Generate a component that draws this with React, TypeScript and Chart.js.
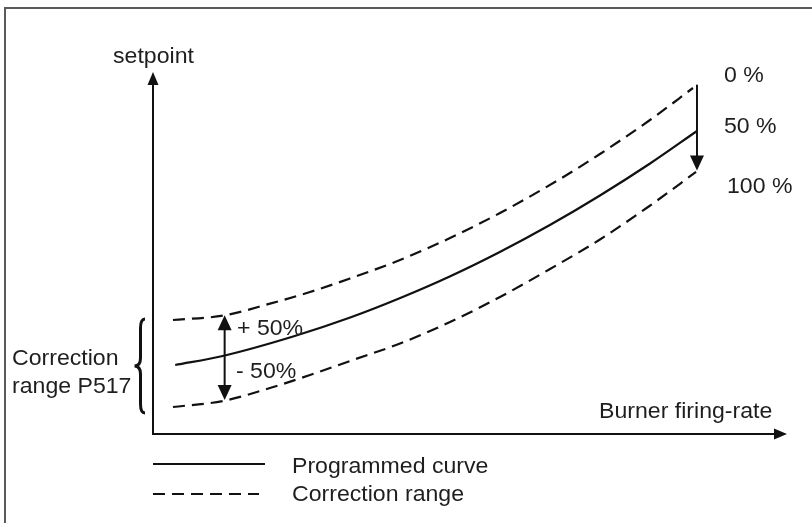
import React, { useEffect, useRef } from "react";
import { Chart, registerables } from "chart.js";

Chart.register(...registerables);

// Programmed curve (x: burner firing-rate, y: setpoint, arbitrary units 0..100)
const xProgrammed = [3.5, 11.0, 22.1, 31.1, 39.0, 46.8, 54.7, 62.6, 70.5, 78.4, 85.8];
const yProgrammed = [19.06, 21.55, 26.93, 32.18, 37.57, 43.51, 50.28, 57.73, 65.88, 74.72, 83.7];

// Upper correction limit (+50%)
const xUpper = [3.15, 11.04, 18.45, 24.76, 31.07, 38.96, 46.85, 54.73, 64.2, 70.5, 78.39, 85.17];
const yUpper = [31.49, 32.7, 36.0, 39.23, 42.96, 48.07, 54.14, 61.05, 70.44, 77.35, 86.74, 95.58];

// Lower correction limit (-50%)
const xLower = [3.15, 11.04, 18.45, 24.76, 31.07, 38.96, 46.85, 54.73, 62.62, 70.5, 78.08, 85.65];
const yLower = [7.46, 9.12, 12.71, 16.3, 20.17, 25.0, 30.94, 37.85, 45.58, 53.73, 62.71, 72.38];

// Annotation arrows (x, yFrom, yTo)
const leftArrow = [11.3, 32.8, 9.4];
const rightArrow = [85.8, 96.5, 72.8];

const axisTitles = ["Burner firing-rate", "setpoint"];
const rangeLabels = ["0 %", "50 %", "100 %"];
const corrLabels = ["+ 50%", "- 50%"];
const braceLabel = ["Correction", "range P517"];
const legendLabels = ["Programmed curve", "Correction range"];

const FONT = '22px "Liberation Sans", Arial, sans-serif';
const INK = "#111";
const TEXT = "#1e1e1e";

function txt(ctx: CanvasRenderingContext2D, s: string, x: number, y: number) {
  ctx.save();
  ctx.translate(x, y);
  ctx.scale(1.05, 1);
  ctx.fillText(s, 0, 0);
  ctx.restore();
}

function arrowHead(ctx: CanvasRenderingContext2D, x: number, y: number, dir: string, w: number, l: number) {
  ctx.beginPath();
  if (dir === "up") {
    ctx.moveTo(x, y);
    ctx.lineTo(x - w / 2, y + l);
    ctx.lineTo(x + w / 2, y + l);
  } else if (dir === "down") {
    ctx.moveTo(x, y);
    ctx.lineTo(x - w / 2, y - l);
    ctx.lineTo(x + w / 2, y - l);
  } else {
    ctx.moveTo(x, y);
    ctx.lineTo(x - l, y - w / 2);
    ctx.lineTo(x - l, y + w / 2);
  }
  ctx.closePath();
  ctx.fill();
}

const diagramPlugin = {
  id: "diagram",
  afterDraw(chart: any) {
    const ctx: CanvasRenderingContext2D = chart.ctx;
    const { left, right, top, bottom } = chart.chartArea;
    const xs = chart.scales.x;
    const ys = chart.scales.y;
    ctx.save();

    // frame (left + top)
    ctx.strokeStyle = "#5a5a5a";
    ctx.lineWidth = 2;
    ctx.beginPath();
    ctx.moveTo(5, chart.height);
    ctx.lineTo(5, 8);
    ctx.lineTo(chart.width, 8);
    ctx.stroke();

    // axes
    ctx.strokeStyle = INK;
    ctx.fillStyle = INK;
    ctx.lineWidth = 2;
    ctx.beginPath();
    ctx.moveTo(left, top + 4);
    ctx.lineTo(left, bottom);
    ctx.lineTo(right - 4, bottom);
    ctx.stroke();
    arrowHead(ctx, left, top, "up", 11, 13);
    arrowHead(ctx, right, bottom, "right", 11, 13);

    // correction arrows
    const lx = xs.getPixelForValue(leftArrow[0]);
    const ly1 = ys.getPixelForValue(leftArrow[1]);
    const ly2 = ys.getPixelForValue(leftArrow[2]);
    ctx.beginPath();
    ctx.moveTo(lx, ly1 + 8);
    ctx.lineTo(lx, ly2 - 8);
    ctx.stroke();
    arrowHead(ctx, lx, ly1, "up", 14, 15);
    arrowHead(ctx, lx, ly2, "down", 14, 15);

    const rx = xs.getPixelForValue(rightArrow[0]);
    const ry1 = ys.getPixelForValue(rightArrow[1]);
    const ry2 = ys.getPixelForValue(rightArrow[2]);
    ctx.beginPath();
    ctx.moveTo(rx, ry1);
    ctx.lineTo(rx, ry2 - 8);
    ctx.stroke();
    arrowHead(ctx, rx, ry2, "down", 14, 15);

    // brace
    const bxR = 145, bxM = 140.5, bxL = 134.5;
    const bTop = 319, bMid = 366, bBot = 413;
    ctx.lineWidth = 3;
    ctx.beginPath();
    ctx.moveTo(bxR, bTop);
    ctx.quadraticCurveTo(bxM, bTop, bxM, bTop + 9);
    ctx.lineTo(bxM, bMid - 8);
    ctx.quadraticCurveTo(bxM, bMid, bxL, bMid);
    ctx.quadraticCurveTo(bxM, bMid, bxM, bMid + 8);
    ctx.lineTo(bxM, bBot - 9);
    ctx.quadraticCurveTo(bxM, bBot, bxR, bBot);
    ctx.stroke();

    // texts
    ctx.fillStyle = TEXT;
    ctx.font = FONT;
    ctx.textBaseline = "alphabetic";
    ctx.textAlign = "left";
    txt(ctx, axisTitles[1], 113, 63);
    txt(ctx, axisTitles[0], 599, 418);
    txt(ctx, rangeLabels[0], 724, 82);
    txt(ctx, rangeLabels[1], 724, 133);
    txt(ctx, rangeLabels[2], 727, 193);
    txt(ctx, corrLabels[0], 237, 335);
    txt(ctx, corrLabels[1], 236, 378);
    txt(ctx, braceLabel[0], 12, 365);
    txt(ctx, braceLabel[1], 12, 393);

    // legend
    const ds = chart.data.datasets;
    ctx.strokeStyle = INK;
    ctx.lineWidth = 2;
    ctx.setLineDash([]);
    ctx.beginPath();
    ctx.moveTo(left, 464);
    ctx.lineTo(left + 112, 464);
    ctx.stroke();
    ctx.setLineDash(ds[1].borderDash);
    ctx.beginPath();
    ctx.moveTo(left, 494);
    ctx.lineTo(left + 106, 494);
    ctx.stroke();
    ctx.setLineDash([]);
    txt(ctx, legendLabels[0], 292, 473);
    txt(ctx, legendLabels[1], 292, 501);

    ctx.restore();
  },
};

function pts(xs: number[], ys: number[]) {
  return xs.map((x, i) => ({ x, y: ys[i] }));
}

export default function App() {
  const ref = useRef<HTMLCanvasElement>(null);
  useEffect(() => {
    if (!ref.current) return;
    const common = {
      borderColor: INK,
      borderWidth: 2.2,
      pointRadius: 0,
      fill: false,
      cubicInterpolationMode: "monotone" as const,
    };
    const chart = new Chart(ref.current, {
      type: "line",
      data: {
        datasets: [
          { ...common, label: legendLabels[0], data: pts(xProgrammed, yProgrammed) },
          { ...common, label: legendLabels[1], data: pts(xUpper, yUpper), borderDash: [12, 7] },
          { ...common, label: legendLabels[1], data: pts(xLower, yLower), borderDash: [12, 7] },
        ],
      },
      options: {
        animation: false,
        responsive: false,
        layout: { padding: { left: 153, right: 25, top: 72, bottom: 89 } },
        scales: {
          x: { type: "linear", min: 0, max: 100, display: false },
          y: { type: "linear", min: 0, max: 100, display: false },
        },
        plugins: { legend: { display: false }, tooltip: { enabled: false } },
      },
      plugins: [diagramPlugin],
    });
    return () => chart.destroy();
  }, []);
  return (
    <div style={{ position: "fixed", left: 0, top: 0, width: 812, height: 523, background: "#fff" }}>
      <canvas ref={ref} width={812} height={523} style={{ display: "block", width: 812, height: 523 }} />
    </div>
  );
}
